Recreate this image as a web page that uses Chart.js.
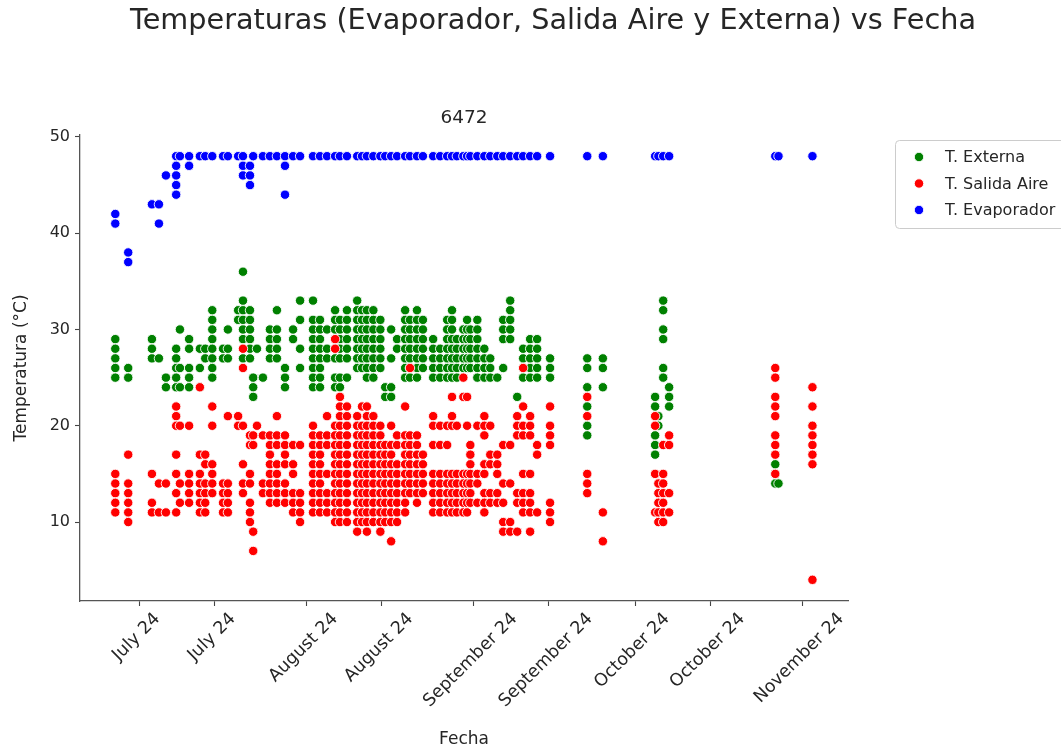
<!DOCTYPE html>
<html>
<head>
<meta charset="utf-8">
<script src="https://cdn.jsdelivr.net/npm/chart.js@4/dist/chart.umd.min.js"></script>
<style>
  html, body { margin: 0; padding: 0; background: #ffffff; }
  #marco { width: 1061px; height: 753px; }
</style>
</head>
<body>
<div id="marco"><canvas id="grafico" width="1061" height="753"></canvas></div>
<script>
// Textos
const titulo = 'Temperaturas (Evaporador, Salida Aire y Externa) vs Fecha';
const subtitulo = '6472';
const series = ['T. Externa', 'T. Salida Aire', 'T. Evaporador'];
const colores = ['#008000', '#ff0000', '#0000ff'];

// Eje X: fechas de las marcas y sus etiquetas (días contados desde fechaBase)
const fechaBase = '2024-07-01';
const fechasTicks = ['2024-07-01', '2024-07-15', '2024-08-01', '2024-08-15', '2024-09-01',
                     '2024-09-15', '2024-10-01', '2024-10-15', '2024-11-01'];
const etiquetasTicks = ['July 24', 'July 24', 'August 24', 'August 24', 'September 24',
                        'September 24', 'October 24', 'October 24', 'November 24'];
const ticksY = [10, 20, 30, 40, 50];

// Lecturas agrupadas por día (días desde fechaBase) y temperaturas en °C
const dias = [-4.5, -2.1, 2.3, 3.6, 4.9, 6.8, 7.5, 9.2, 11.2, 12.2,
              13.5, 15.5, 16.4, 18.3, 19.2, 20.5, 21.1, 21.8, 22.9, 24.2,
              25.5, 27.0, 28.5, 29.8, 32.2, 33.5, 34.8, 36.3, 37.2, 38.5,
              40.4, 41.3, 42.2, 43.4, 44.7, 45.6, 46.7, 47.8, 49.3, 50.2,
              51.5, 52.6, 54.5, 55.8, 57.1, 58.0, 58.9, 60.1, 60.8, 61.4,
              62.7, 64.0, 65.1, 66.4, 67.5, 68.8, 70.1, 71.2, 72.5, 73.8,
              76.2, 83.1, 86.0, 95.7, 96.3, 97.2, 98.3, 118.0, 118.6, 124.9];

const tExterna = [
  [29, 28, 27, 26, 25], [26, 25], [29, 28, 27], [27], [25, 24],
  [28, 27, 26, 25, 24], [30, 26, 24], [29, 28, 26, 25, 24], [28, 26, 24], [28, 27],
  [32, 31, 30, 29, 28, 27, 26, 25], [28, 27], [30, 28, 27], [32, 31], [36, 33, 32, 31, 30, 29, 27],
  [32, 31, 30, 29, 28, 27], [25, 24, 23], [28], [25], [30, 29, 28, 27],
  [32, 30, 29, 28, 27], [26, 25, 24], [30, 29], [33, 31, 28, 26], [33, 31, 30, 29, 28, 27, 26, 25, 24],
  [31, 30, 29, 28, 27, 26, 25, 24], [30, 28, 27], [32, 31, 30, 29, 28, 27, 25, 24], [31, 30, 29, 28, 27, 25, 24], [32, 31, 30, 29, 28, 27, 25],
  [33, 32, 31, 30, 29, 28, 27, 26], [32, 31, 30, 29, 28, 27, 26], [32, 31, 30, 29, 28, 27, 26, 25], [32, 31, 30, 29, 28, 27, 26, 25], [31, 30, 29, 28, 27, 26],
  [24, 23], [30, 27, 24, 23], [29, 28], [32, 31, 30, 29, 28, 27, 26, 25], [31, 30, 29, 28, 27, 26, 25],
  [32, 31, 30, 29, 28, 27, 26, 25], [31, 30, 29, 28, 27, 26], [29, 28, 27, 26, 25], [28, 27, 26, 25], [31, 30, 29, 28, 27, 26, 25],
  [32, 31, 30, 29, 28, 27, 26, 25], [29, 28, 27, 26, 25], [30, 29, 28, 27, 26], [31, 30, 29, 28, 27, 26], [30, 29, 28, 27, 26],
  [31, 30, 29, 28, 27, 26, 25], [28, 27, 26, 25], [27, 26, 25], [25], [31, 30, 29, 26],
  [33, 32, 31, 30, 29], [23], [28, 27, 26, 25], [29, 28, 27, 26, 25], [29, 28, 27, 26, 25],
  [27, 26, 25], [27, 26, 24, 22, 20, 19], [27, 26, 24], [23, 22, 19, 18, 17], [21, 20],
  [33, 32, 30, 29, 26, 25], [24, 23, 22], [16, 15, 14], [14], [20]
];

const tSalida = [
  [15, 14, 13, 12, 11], [17, 14, 13, 12, 11, 10], [15, 12, 11], [14, 11], [14, 11],
  [22, 21, 20, 17, 15, 13, 11], [20, 14, 12], [20, 15, 14, 13, 12], [24, 17, 15, 14, 13, 12, 11], [17, 16, 14, 13, 12, 11],
  [22, 20, 16, 15, 14, 13], [14, 13, 12, 11], [21, 14, 13, 12, 11], [21, 20], [28, 26, 20, 16, 14, 13],
  [19, 18, 15, 14, 12, 11, 10], [19, 18, 9, 7], [20], [19, 14, 13], [19, 18, 17, 16, 15, 14, 13, 12],
  [21, 19, 18, 16, 15, 14, 13, 12], [19, 18, 17, 16, 14, 13, 12], [18, 16, 15, 13, 12, 11], [18, 13, 12, 11, 10], [20, 19, 18, 17, 16, 15, 14, 13, 12, 11],
  [19, 18, 17, 16, 15, 14, 13, 12, 11], [21, 19, 18, 15, 13, 12, 11], [29, 28, 20, 19, 18, 17, 16, 15, 14, 13, 12, 11, 10], [23, 22, 21, 20, 19, 18, 17, 16, 15, 14, 13, 12, 11, 10], [22, 21, 20, 19, 18, 17, 16, 15, 14, 13, 12, 11, 10],
  [21, 20, 19, 18, 17, 16, 15, 14, 13, 12, 11, 10, 9], [22, 20, 19, 18, 17, 16, 15, 14, 13, 12, 11, 10], [22, 21, 20, 19, 18, 17, 16, 15, 14, 13, 12, 11, 10, 9], [21, 20, 19, 18, 17, 16, 15, 14, 13, 12, 11, 10], [20, 19, 18, 17, 16, 15, 14, 13, 12, 11, 10, 9],
  [18, 17, 16, 15, 14, 13, 12, 11, 10], [20, 18, 17, 16, 15, 14, 13, 12, 11, 10, 8], [19, 18, 16, 15, 14, 13, 12, 11, 10], [22, 19, 18, 17, 16, 15, 14, 13, 12, 11], [26, 19, 18, 17, 16, 15, 14, 13],
  [19, 18, 17, 16, 15, 14, 13, 12], [17, 16, 15, 14, 13], [21, 20, 18, 15, 14, 13, 12, 11], [20, 18, 15, 14, 13, 12, 11], [20, 18, 15, 14, 13, 12, 11],
  [23, 21, 20, 15, 14, 13, 12, 11], [20, 15, 14, 13, 12, 11], [25, 23, 15, 14, 13, 12, 11], [23, 20, 15, 14, 13, 12, 11], [18, 17, 16, 15, 14, 13, 12],
  [20, 15, 14, 12], [21, 20, 19, 16, 15, 13, 12, 11], [20, 17, 16, 13, 12], [17, 16, 15, 13, 12], [18, 14, 12, 10, 9],
  [18, 14, 10, 9], [21, 20, 19, 13, 12, 9], [26, 22, 20, 19, 15, 13, 12, 11], [21, 20, 19, 15, 13, 12, 11, 9], [18, 17, 11],
  [22, 20, 19, 18, 12, 11, 10], [23, 21, 15, 14, 13], [11, 8], [21, 20, 15, 11], [14, 13, 12, 11, 10],
  [18, 15, 14, 13, 12, 11, 10], [19, 18, 13, 11], [26, 25, 23, 22, 21, 19, 18, 17, 15], [], [24, 22, 20, 19, 18, 17, 16, 4]
];

const tEvaporador = [
  [42, 41], [38, 37], [43], [43, 41], [46],
  [48, 47, 46, 45, 44], [48], [48, 47], [48], [48],
  [48], [48], [48], [48], [48, 47, 46],
  [47, 46, 45], [48], [], [48], [48],
  [48], [48, 47, 44], [48], [48], [48],
  [48], [48], [48], [48], [48],
  [48], [48], [48], [48], [48],
  [48], [48], [48], [48], [48],
  [48], [48], [48], [48], [48],
  [48], [48], [48], [48], [48],
  [48], [48], [48], [48], [48],
  [48], [48], [48], [48], [48],
  [48], [48], [48], [48], [48],
  [48], [48], [48], [48], [48]
];

const msDia = 864e5;
const diaDe = f => (Date.parse(f + 'T00:00:00Z') - Date.parse(fechaBase + 'T00:00:00Z')) / msDia;

function puntos(valores) {
  const out = [];
  dias.forEach((d, i) => valores[i].forEach(v => out.push({ x: d, y: v })));
  return out;
}

const fuente = 'DejaVu Sans';
const tinta = '#262626';
const tamTickX = 17.5;

// Títulos, etiquetas giradas del eje X y leyenda exterior
const rotulos = {
  id: 'rotulos',
  afterDraw(chart) {
    const c = chart.ctx;
    const area = chart.chartArea;
    const xs = chart.scales.x;
    c.save();
    c.fillStyle = tinta;
    c.textAlign = 'center';
    c.textBaseline = 'middle';
    c.font = '28.7px "' + fuente + '"';
    c.fillText(titulo, 553, 22);
    c.font = '18.5px "' + fuente + '"';
    c.fillText(subtitulo, (area.left + area.right) / 2, 118);

    // etiquetas giradas 45°, centradas bajo cada marca
    c.font = tamTickX + 'px "' + fuente + '"';
    xs.ticks.forEach((t, i) => {
      const txt = etiquetasTicks[i];
      const w = c.measureText(txt).width;
      const ext = (w + tamTickX) * Math.SQRT1_2;
      const px = xs.getPixelForValue(t.value) - 3;
      c.save();
      c.translate(px, area.bottom + 9 + ext / 2);
      c.rotate(-Math.PI / 4);
      c.fillText(txt, 0, 0);
      c.restore();
    });

    // Leyenda
    const lx = 895.5, ly = 140.5;
    c.beginPath();
    c.roundRect(lx, ly, 210, 88, 4);
    c.fillStyle = '#ffffff';
    c.fill();
    c.strokeStyle = '#cccccc';
    c.lineWidth = 1;
    c.stroke();
    c.textAlign = 'left';
    c.font = '16px "' + fuente + '"';
    series.forEach((s, i) => {
      const y = 157 + i * 26.5;
      c.beginPath();
      c.arc(919, y, 4.7, 0, Math.PI * 2);
      c.fillStyle = colores[i];
      c.fill();
      c.strokeStyle = '#ffffff';
      c.lineWidth = 0.9;
      c.stroke();
      c.fillStyle = tinta;
      c.fillText(s, 945, y + 1);
    });
    c.restore();
  }
};

const estiloPunto = { pointRadius: 4.7, pointHoverRadius: 4.7, borderColor: '#ffffff', pointBorderColor: '#ffffff', pointBorderWidth: 0.9 };
const valoresSeries = [tExterna, tSalida, tEvaporador];

new Chart(document.getElementById('grafico'), {
  type: 'scatter',
  data: {
    datasets: series.map((s, i) => Object.assign({
      label: s,
      data: puntos(valoresSeries[i]),
      backgroundColor: colores[i],
      pointBackgroundColor: colores[i],
      order: 3 - i
    }, estiloPunto))
  },
  options: {
    responsive: false,
    animation: false,
    devicePixelRatio: 1,
    layout: { padding: { left: 0, right: 213, top: 135, bottom: 0 } },
    plugins: { legend: { display: false }, tooltip: { enabled: false }, title: { display: false } },
    scales: {
      x: {
        type: 'linear',
        min: -11.05,
        max: 131.5,
        afterBuildTicks: s => { s.ticks = fechasTicks.map(f => ({ value: diaDe(f) })); },
        afterFit: s => { s.height = 152; },
        ticks: { display: false },
        grid: { display: true, drawOnChartArea: false, drawTicks: true, tickLength: 5, tickColor: '#444444', tickWidth: 1.1 },
        border: { display: true, color: '#555555', width: 1.3 },
        title: { display: true, text: 'Fecha', color: tinta, font: { family: fuente, size: 17 }, padding: { top: 0, bottom: 3 } }
      },
      y: {
        min: 1.8,
        max: 50.2,
        afterBuildTicks: s => { s.ticks = ticksY.map(v => ({ value: v })); },
        afterFit: s => { s.width = 80; },
        ticks: { color: tinta, font: { family: fuente, size: 16 }, padding: 5 },
        grid: { display: true, drawOnChartArea: false, drawTicks: true, tickLength: 5, tickColor: '#444444', tickWidth: 1.1 },
        border: { display: true, color: '#555555', width: 1.3 },
        title: { display: true, text: 'Temperatura (°C)', color: tinta, font: { family: fuente, size: 17 }, padding: { top: 11, bottom: 0 } }
      }
    }
  },
  plugins: [rotulos]
});
</script>
</body>
</html>
